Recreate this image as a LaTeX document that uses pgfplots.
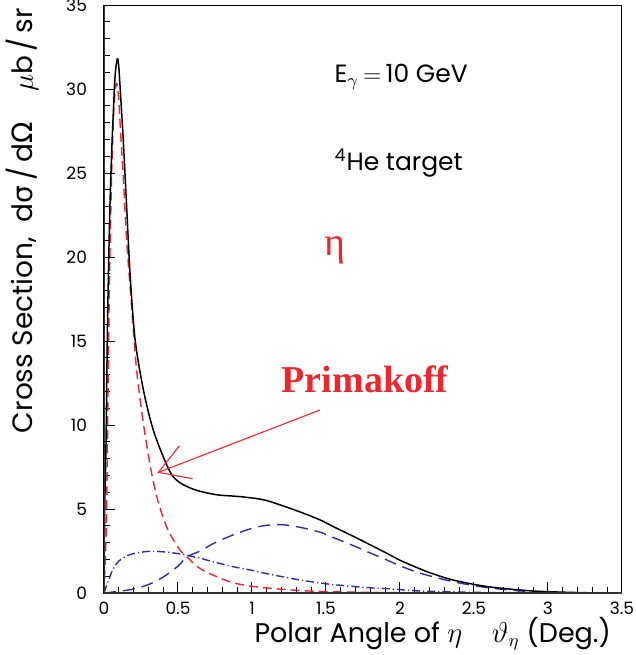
\documentclass[border=0pt]{standalone}
\usepackage{fontspec}
\setmainfont{Poppins}
\newfontfamily\grk{DejaVu Sans}
\newfontfamily\serifgrk{Liberation Serif}
\usepackage{pgfplots}
\pgfplotsset{compat=1.18}
\definecolor{myred}{RGB}{235,40,45}
\definecolor{myblue}{RGB}{45,45,160}

\pgfplotstableread{
x y
0 0
0.005 5
0.014 9.1
0.022 15
0.03 19
0.04 23
0.052 26.3
0.063 28.6
0.075 30.8
0.09 31.8
0.1 31.3
0.113 29.5
0.13 27
0.153 23
0.176 19
0.21 15.1
0.266 12.1
0.333 9.7
0.42 7.7
0.47 6.9
0.535 6.45
0.63 6.1
0.76 5.85
0.87 5.77
0.96 5.7
1.1 5.5
1.32 4.84
1.46 4.35
1.55 3.95
1.69 3.35
1.78 2.95
1.91 2.37
2.0 1.95
2.14 1.42
2.22 1.15
2.36 0.77
2.59 0.38
2.88 0.13
3.1 0.05
3.3 0.01
3.5 0
}\total

\pgfplotstableread{
x y
0 0
0.01 2.2
0.018 5.1
0.025 10
0.032 15.5
0.042 21
0.052 25
0.065 28.5
0.078 30.1
0.088 30.3
0.1 29.3
0.115 27
0.13 24.8
0.153 21
0.187 17
0.22 13.3
0.266 10.1
0.318 7.3
0.367 5.4
0.43 3.8
0.51 2.6
0.56 2.15
0.65 1.45
0.78 0.9
0.87 0.62
0.96 0.45
1.1 0.3
1.32 0.15
1.55 0.07
2.0 0.02
2.5 0.005
3.5 0
}\primakoff

\pgfplotstableread{
x y
0 0
0.18 0.2
0.3 0.5
0.4 0.95
0.5 1.6
0.56 2.15
0.65 2.5
0.74 2.95
0.87 3.45
1.0 3.85
1.1 4.03
1.2 4.07
1.32 3.92
1.46 3.62
1.55 3.3
1.69 2.8
1.78 2.45
1.91 1.97
2.0 1.62
2.14 1.17
2.36 0.67
2.59 0.32
2.88 0.08
3.1 0.02
3.5 0
}\coherent

\pgfplotstableread{
x y
0 0
0.02 0.5
0.06 1.4
0.1 1.9
0.18 2.3
0.3 2.48
0.4 2.45
0.51 2.33
0.65 2.07
0.74 1.85
0.87 1.57
1.0 1.35
1.1 1.15
1.32 0.78
1.46 0.6
1.55 0.5
1.78 0.32
1.91 0.26
2.0 0.2
2.14 0.12
2.5 0.04
3.0 0.01
3.5 0
}\incoherent

\begin{document}
\begin{tikzpicture}
\path[use as bounding box] (-52pt,-31pt) rectangle (266pt,296.5pt);
\begin{axis}[
  scale only axis, width=259pt, height=294pt,
  xmin=0, xmax=3.5, ymin=0, ymax=35,
  xtick={0,0.5,1,1.5,2,2.5,3,3.5}, ytick={0,5,10,15,20,25,30,35},
  minor x tick num=4, minor y tick num=4,
  tick align=inside, xtick pos=left, ytick pos=left,
  major tick length=5.5pt, minor tick length=3pt,
  tick style={black, line width=0.5pt},
  axis line style={line width=0.5pt},
  ticklabel style={font=\fontsize{8.5}{10}\selectfont},
  /pgf/number format/assume math mode=true,
  yticklabel style={xshift=-5pt},
  xticklabel style={yshift=-1pt},
  xlabel={Polar Angle of $\eta$\hspace{1.1em}$\vartheta_\eta$ (Deg.)},
  xlabel style={font=\fontsize{13.5}{16}\selectfont, at={(rel axis cs:1,0)}, anchor=base east, yshift=-24.5pt, xshift=-2pt},
  ylabel={Cross Section,\ \ d{\grk σ}\,/\,d{\grk Ω}\hspace{1.1em}$\mu$b\,/\,sr},
  ylabel style={font=\fontsize{14}{16}\selectfont, at={(rel axis cs:0,1)}, anchor=base east, xshift=2pt, yshift=35.5pt},
]
\addplot[myblue, line width=0.7pt, smooth, dash pattern=on 6pt off 3.5pt] table {\coherent};
\addplot[myblue, line width=0.7pt, smooth, dash pattern=on 4pt off 1.5pt on 0.6pt off 1.5pt] table {\incoherent};
\addplot[myred, line width=0.7pt, smooth, dash pattern=on 4.5pt off 2.5pt] table {\primakoff};
\addplot[black, line width=0.75pt, smooth] table {\total};
\draw[line width=1.1pt, black!80] (rel axis cs:0,1) -- (rel axis cs:0,0) -- (rel axis cs:1,0);
\node[anchor=west, font=\fontsize{12.5}{14}\selectfont] at (axis cs:1.51,30.7) {E$_\gamma$\,$=$\,10 GeV};
\node[anchor=west, font=\fontsize{12.5}{14}\selectfont] at (axis cs:1.51,25.6) {\textsuperscript{4}He target};
\node[anchor=west, myred, font=\fontsize{20}{22}\selectfont\serifgrk] at (axis cs:1.44,20.4) {η};
\node[anchor=base, myred, font=\fontsize{19}{22}\selectfont\serifgrk\bfseries] at (axis cs:1.764,11.96) {Primakoff};
\draw[myred, line width=0.55pt] (axis cs:1.459,10.89) -- (axis cs:0.367,7.18);
\draw[myred, line width=0.55pt] (axis cs:0.509,8.75) -- (axis cs:0.367,7.18) -- (axis cs:0.599,6.8);
\end{axis}
\end{tikzpicture}
\end{document}
